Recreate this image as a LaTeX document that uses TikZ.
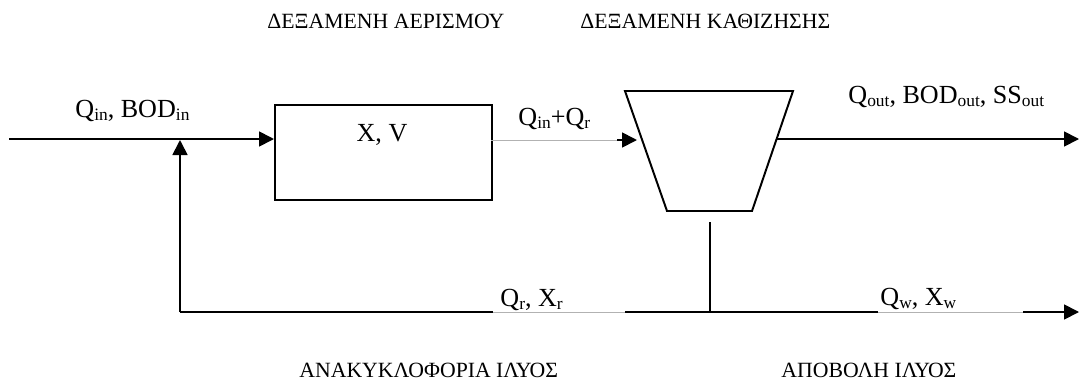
\documentclass[tikz,border=0pt]{standalone}
\usepackage{fontspec}
\setmainfont{Liberation Serif}
\usetikzlibrary{arrows.meta}
\newcommand\lo[1]{\raisebox{-1.6pt}{\fontsize{8}{8}\selectfont #1}}
\begin{document}
\begin{tikzpicture}[x=0.46pt,y=-0.46pt,
  lbl/.style={inner sep=0pt,anchor=base west,font=\fontsize{12}{14}\selectfont},
  ttl/.style={inner sep=0pt,anchor=base west,font=\fontsize{10}{12}\selectfont},
  ln/.style={line width=0.8pt,black},
  thin/.style={line width=0.45pt,black!30},
  arr/.style={ln,-{Triangle[length=6.9pt,width=6.9pt]}},
  tank/.style={draw,line width=0.9pt,inner sep=0pt,anchor=north west}]
\useasboundingbox (0,0) rectangle (1080,380);
% titles
\node[ttl] (t1) at (267,28) {ΔΕΞΑΜΕΝΗ ΑΕΡΙΣΜΟΥ};
\node[ttl] (t2) at (580,28) {ΔΕΞΑΜΕΝΗ ΚΑΘΙΖΗΣΗΣ};
\node[ttl] (b1) at (299,377) {ΑΝΑΚΥΚΛΟΦΟΡΙΑ ΙΛΥΟΣ};
\node[ttl] (b2) at (781,377) {ΑΠΟΒΟΛΗ ΙΛΥΟΣ};
% aeration tank
\node[tank,minimum width=99.8pt,minimum height=43.7pt] (box) at (274,104) {};
\node[lbl,anchor=base] (xv) at (382,141) {X, V};
% clarifier
\coordinate (c1) at (625,91);
\coordinate (c2) at (793,91);
\coordinate (c3) at (752,211);
\coordinate (c4) at (667,211);
\draw[line width=0.9pt] (c1) -- (c2) -- (c3) -- (c4) -- cycle;
% labels
\node[lbl] (lin) at (75,117) {Q\lo{in}, BOD\lo{in}};
\node[lbl] (lqq) at (518,125) {Q\lo{in}+Q\lo{r}};
\node[lbl] (lout) at (848,103) {Q\lo{out}, BOD\lo{out}, SS\lo{out}};
\node[lbl] (lr) at (500,306) {Q\lo{r}, X\lo{r}};
\node[lbl] (lw) at (880,305) {Q\lo{w}, X\lo{w}};
% coordinates
\coordinate (in) at (9,139);
\coordinate (inbox) at (274,139);
\coordinate (boxout) at (491,140);
\coordinate (g1) at (617,140);
\coordinate (ctip) at (637,140);
\coordinate (cout) at (777,139);
\coordinate (outend) at (1079,139);
\coordinate (cbot) at (710,222);
\coordinate (jn) at (710,312);
\coordinate (rc) at (180,312);
\coordinate (rtip) at (180,140);
\coordinate (s1) at (493,312);
\coordinate (s2) at (625,312);
\coordinate (s3) at (878,312);
\coordinate (s4) at (1023,312);
\coordinate (wend) at (1079,312);
% connectors
\draw[arr] (in) -- (inbox);
\draw[thin] (boxout) -- (g1);
\draw[arr] (g1) -- (ctip);
\draw[arr] (cout) -- (outend);
\draw[ln] (cbot) -- (jn);
\draw[ln] (rc) -- (s1);
\draw[thin] (s1) -- (s2);
\draw[ln] (s2) -- (s3);
\draw[thin] (s3) -- (s4);
\draw[arr] (s4) -- (wend);
\draw[arr] (rc) -- (rtip);
\end{tikzpicture}
\end{document}
